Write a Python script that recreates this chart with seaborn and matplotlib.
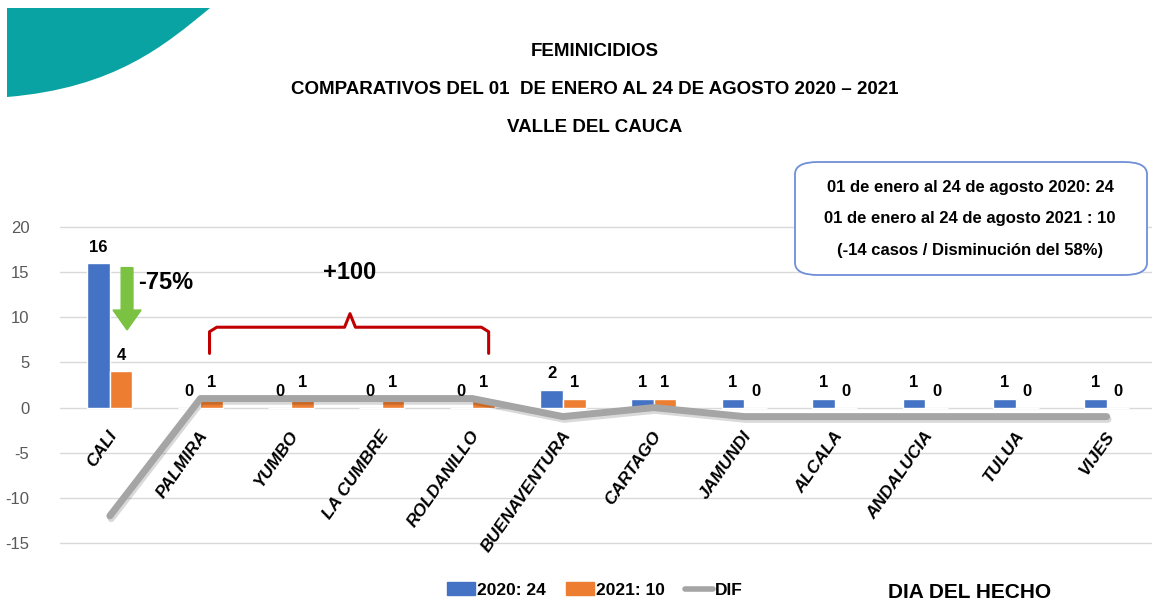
import numpy as np
import pandas as pd
import matplotlib
matplotlib.use("Agg")
import matplotlib.pyplot as plt
import matplotlib.patheffects as pe
import seaborn as sns
from matplotlib.path import Path
from matplotlib.patches import PathPatch, FancyArrow, FancyBboxPatch, Patch
from matplotlib.lines import Line2D

municipios = ["CALI", "PALMIRA", "YUMBO", "LA CUMBRE", "ROLDANILLO", "BUENAVENTURA",
              "CARTAGO", "JAMUNDI", "ALCALA", "ANDALUCIA", "TULUA", "VIJES"]
casos_2020 = [16, 0, 0, 0, 0, 2, 1, 1, 1, 1, 1, 1]
casos_2021 = [4, 1, 1, 1, 1, 1, 1, 0, 0, 0, 0, 0]
dif = [-12, 1, 1, 1, 1, -1, 0, -1, -1, -1, -1, -1]
serie_labels = ["2020: 24", "2021: 10"]
y_ticks = [-15, -10, -5, 0, 5, 10, 15, 20]

sns.set_style("white")
plt.rcParams["font.family"] = ["Liberation Sans", "DejaVu Sans"]
plt.rcParams["text.color"] = "black"

azul = "#4472c4"
naranja = "#ed7d31"
gris = "#a5a5a5"

df = pd.DataFrame({
    "municipio": municipios * 2,
    "casos": casos_2020 + casos_2021,
    "serie": [serie_labels[0]] * len(municipios) + [serie_labels[1]] * len(municipios),
})

fig = plt.figure(figsize=(11.52, 6.07), dpi=100)
ax = fig.add_axes([60 / 1152, 1 - 543 / 607, 1092 / 1152, 316 / 607])

for y in y_ticks:
    ax.axhline(y, color="#d9d9d9", lw=1, zorder=0, clip_on=False)

sns.barplot(data=df, x="municipio", y="casos", hue="serie", order=municipios,
            palette=[azul, naranja], width=0.5, gap=0, saturation=1, ax=ax,
            legend=False, zorder=2)

x = np.arange(len(municipios))
sns.lineplot(x=x, y=dif, color=gris, lw=5, ax=ax, zorder=3, solid_capstyle="round",
             path_effects=[pe.SimpleLineShadow(offset=(1, -2), alpha=0.15), pe.Normal()])

for cont in ax.containers:
    ax.bar_label(cont, padding=6, fontsize=12, fontweight="bold", color="black")

ax.set_xlim(-0.55, 11.5)
ax.set_ylim(-15, 20)
ax.set_yticks(y_ticks)
ax.set_yticklabels([str(v) for v in y_ticks], color="#595959", fontsize=12)
ax.tick_params(axis="y", length=0, pad=22)
ax.set_xticks([])
ax.set_xlabel("")
ax.set_ylabel("")
for s in ax.spines.values():
    s.set_visible(False)

for i, m in enumerate(municipios):
    ax.text(i - 0.02, -2.3, m, rotation=55, ha="right", va="top",
            rotation_mode="anchor", fontsize=12.5, fontweight="bold",
            fontstyle="italic", clip_on=False)

# flecha verde y porcentaje
ax.add_patch(FancyArrow(0.19, 15.5, 0, -6.9, width=0.13, head_width=0.31,
                        head_length=2.2, length_includes_head=True,
                        color="#7cc242", zorder=4))
ax.text(0.62, 13.9, "-75%", fontsize=17, fontweight="bold", ha="center", va="center")

# llave roja
bx0, bx1, bxm = 1.1, 4.18, 2.65
ax.plot([bx0, bx0, bx0 + 0.08, bxm - 0.06, bxm, bxm + 0.06, bx1 - 0.08, bx1, bx1],
        [6.0, 8.4, 8.9, 8.9, 10.4, 8.9, 8.9, 8.4, 6.0],
        color="#c00000", lw=2.2, zorder=4)
ax.text(bxm, 15.0, "+100", fontsize=17, fontweight="bold", ha="center", va="center")

# forma decorativa
verts = [(210, 8), (165, 45), (115, 88), (7, 97), (7, 8), (210, 8)]
verts = [(vx / 1152, 1 - vy / 607) for vx, vy in verts]
codes = [Path.MOVETO, Path.CURVE4, Path.CURVE4, Path.CURVE4, Path.LINETO, Path.CLOSEPOLY]
fig.add_artist(PathPatch(Path(verts, codes), facecolor="#0aa3a3", edgecolor="none",
                         transform=fig.transFigure))

# titulo
for ty, t in zip([52, 90, 127], ["FEMINICIDIOS",
                                 "COMPARATIVOS DEL 01  DE ENERO AL 24 DE AGOSTO 2020 \u2013 2021",
                                 "VALLE DEL CAUCA"]):
    fig.text(595 / 1152, 1 - ty / 607, t, ha="center", va="center",
             fontsize=13.5, fontweight="bold")

# cuadro resumen
fig.add_artist(FancyBboxPatch((795 / 1152, 1 - 275 / 607), 352 / 1152, 113 / 607,
                              boxstyle="round,pad=0,rounding_size=0.02",
                              facecolor="white", edgecolor="#6f8fd8", lw=1.3,
                              transform=fig.transFigure))
for ty, t in zip([187, 218, 250], ["01 de enero al 24 de agosto 2020: 24",
                                   "01 de enero al 24 de agosto 2021 : 10",
                                   "(-14 casos / Disminución del 58%)"]):
    fig.text(970 / 1152, 1 - ty / 607, t, ha="center", va="center",
             fontsize=12, fontweight="bold")

handles = [Patch(color=azul), Patch(color=naranja), Line2D([0], [0], color=gris, lw=4)]
fig.legend(handles, serie_labels + ["DIF"], loc="center", ncol=3, frameon=False,
           bbox_to_anchor=(595 / 1152, 1 - 590 / 607), handlelength=1.6,
           handletextpad=0.1, columnspacing=1.2,
           prop={"weight": "bold", "size": 12.5})
fig.text(970 / 1152, 1 - 593 / 607, "DIA DEL HECHO", ha="center", va="center",
         fontsize=15, fontweight="bold")

fig.savefig("out.png", dpi=100)
